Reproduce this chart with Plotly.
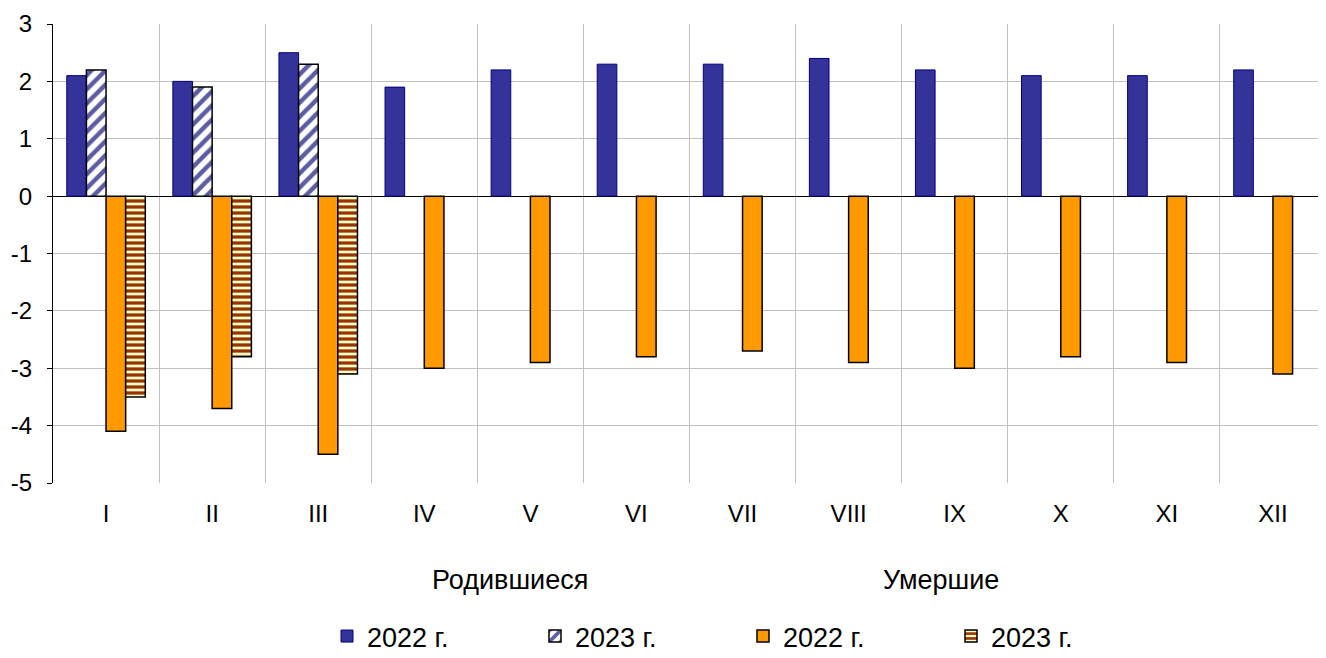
import plotly.graph_objects as go

months = ["I", "II", "III", "IV", "V", "VI", "VII", "VIII", "IX", "X", "XI", "XII"]
births_2022 = [2.1, 2.0, 2.5, 1.9, 2.2, 2.3, 2.3, 2.4, 2.2, 2.1, 2.1, 2.2]
births_2023 = [2.2, 1.9, 2.3, None, None, None, None, None, None, None, None, None]
deaths_2022 = [-4.1, -3.7, -4.5, -3.0, -2.9, -2.8, -2.7, -2.9, -3.0, -2.8, -2.9, -3.1]
deaths_2023 = [-3.5, -2.8, -3.1, None, None, None, None, None, None, None, None, None]
y_ticks = [3, 2, 1, 0, -1, -2, -3, -4, -5]
y_tick_text = ["3", "2", "1", "0", "-1", "-2", "-3", "-4", "-5"]
y_range = [-5, 3]
group_labels = ["Родившиеся", "Умершие"]

FONT = "Liberation Sans, Arial, sans-serif"

# page has an 8px body margin; figure coordinates are page coordinates minus 8
W, H = 1318, 650
L, T, B, R = 45, 16, 175, 0
PW, PH = W - L - R, H - T - B

def px(xp):
    return (xp - 8 - L) / PW

def py(yp):
    return (H - B - (yp - 8)) / PH

fig = go.Figure()
fig.add_trace(go.Bar(x=months, y=births_2022, name="2022 г.",
                     marker=dict(color="#333399", line=dict(color="#000080", width=1))))
fig.add_trace(go.Bar(x=months, y=births_2023, name="2023 г.",
                     marker=dict(color="#FFFFFF", line=dict(color="#000000", width=1.5),
                                 pattern=dict(shape="/", fgcolor="#5C5CA3", bgcolor="#FFFFFF",
                                              fgopacity=1, size=10, solidity=0.45))))
fig.add_trace(go.Bar(x=months, y=deaths_2022, name="2022 г.",
                     marker=dict(color="#FF9900", line=dict(color="#000000", width=1.5))))
fig.add_trace(go.Bar(x=months, y=deaths_2023, name="2023 г.",
                     marker=dict(color="#FFFFCC", line=dict(color="#000000", width=1.5),
                                 pattern=dict(shape="-", fgcolor="#993300", bgcolor="#FFFFC8",
                                              fgopacity=1, size=6, solidity=0.55))))

# position of the zero line as a paper fraction (from the axis range)
zero_frac = (0 - y_range[0]) / (y_range[1] - y_range[0])
boundaries = [i - 0.5 for i in range(len(months) + 1)]

tick_axis = dict(overlaying="x", anchor="free", position=zero_frac, range=[-0.5, len(months) - 0.5],
                 tickvals=boundaries, showticklabels=False, showgrid=False, showline=False,
                 zeroline=False, ticklen=5, tickwidth=1, tickcolor="#000000", automargin=False)

fig.update_layout(
    width=W, height=H,
    barmode="group", bargap=0.26, bargroupgap=0,
    plot_bgcolor="white", paper_bgcolor="white",
    margin=dict(l=L, r=R, t=T, b=B, autoexpand=False),
    font=dict(family=FONT, size=24, color="#000000"),
    showlegend=True,
    legend=dict(orientation="h", x=px(327), xanchor="left",
                y=py(612), yanchor="top",
                entrywidth=163, entrywidthmode="pixels", itemwidth=30,
                font=dict(size=27, family=FONT), traceorder="normal"),
    xaxis=dict(type="category", tickson="boundaries", showgrid=True, gridcolor="#C0C0C0",
               gridwidth=1, ticks="", showline=False, zeroline=False, automargin=False,
               tickfont=dict(size=24), ticklabelstandoff=14),
    xaxis2=dict(tick_axis, ticks="outside"),
    xaxis3=dict(tick_axis, ticks="inside"),
    yaxis=dict(range=y_range, tickvals=y_ticks, ticktext=y_tick_text, showgrid=True,
               gridcolor="#C0C0C0", gridwidth=1, showline=True, linecolor="#000000",
               linewidth=1, ticks="outside", ticklen=5, tickcolor="#000000",
               zeroline=True, zerolinecolor="#000000", zerolinewidth=1, automargin=False,
               tickfont=dict(size=24), ticklabelstandoff=10),
)

fig.add_annotation(text=group_labels[0], xref="paper", yref="paper",
                   x=px(510), y=py(580), xanchor="center", yanchor="middle", showarrow=False,
                   font=dict(size=27, family=FONT))
fig.add_annotation(text=group_labels[1], xref="paper", yref="paper",
                   x=px(941), y=py(580), xanchor="center", yanchor="middle", showarrow=False,
                   font=dict(size=27, family=FONT))

fig.write_html("out.html")
